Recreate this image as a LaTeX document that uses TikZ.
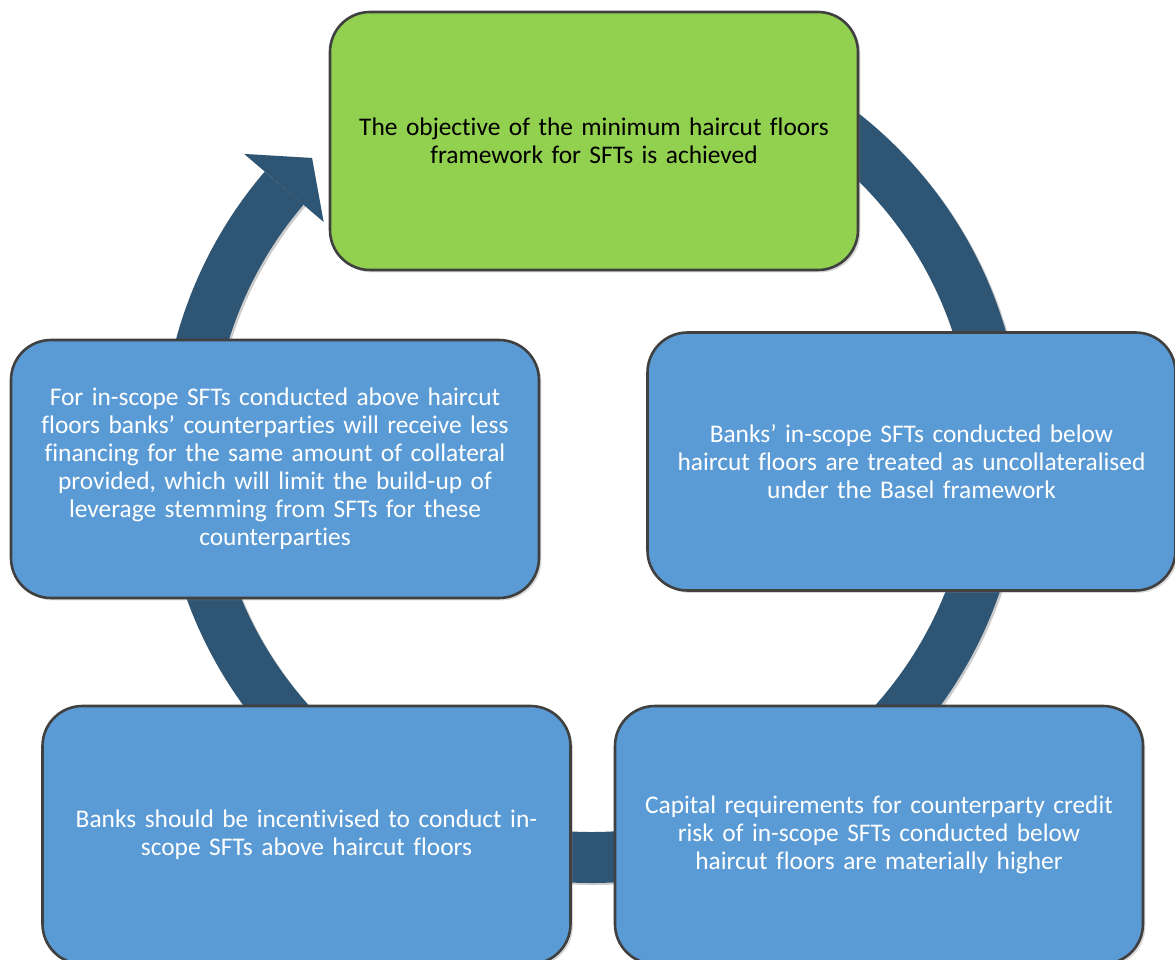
\documentclass[tikz,border=0pt]{standalone}
\usepackage{fontspec}
\setmainfont{Carlito}[Ligatures=NoCommon]
\usepackage{tikz}
\usetikzlibrary{calc,shadows}
\definecolor{goalgreen}{HTML}{92D050}
\definecolor{cardblue}{HTML}{5B9BD5}
\definecolor{ringblue}{HTML}{2E5573}
\definecolor{edgegray}{HTML}{404040}

\begin{document}
\begin{tikzpicture}[x=0.5pt, y=0.5pt,
  card/.style={draw=edgegray, line width=1.3pt, fill=cardblue, text=white,
    rounded corners=20pt, minimum width=264pt, minimum height=129pt,
    text width=256pt, align=center, font=\fontsize{12.7}{14}\selectfont,
    drop shadow={shadow xshift=1.2pt, shadow yshift=-1.2pt, opacity=0.3}},
  ring/.style={ringblue, line width=25.5pt}]
  \useasboundingbox (0,0) rectangle (1175,960);
  \coordinate (c) at (592,508);
  \draw[ring, black, opacity=0.2] ($(c)+(95:405.5)+(2,-2)$) arc[start angle=95, end angle=-220.6, radius=202.75pt];
  \fill[black, opacity=0.2, shift={(2,-2)}] ($(c)+(139.4:353.5)$) -- ($(c)+(133.6:406)$) -- ($(c)+(139.4:458)$) -- cycle;
  \draw[ring] ($(c)+(95:405.5)$) arc[start angle=95, end angle=-220.6, radius=202.75pt];
  \fill[ringblue] ($(c)+(139.4:353.5)$) -- ($(c)+(133.6:406)$) -- ($(c)+(139.4:458)$) -- cycle;
  \node[card, fill=goalgreen, text=black] (goal) at (594,819)
    {The objective of the minimum haircut floors\\ framework for SFTs is achieved};
  \node[card] (below) at (911.5,498.5)
    {Banks’ in-scope SFTs conducted below\\ haircut floors are treated as uncollateralised\\ under the Basel framework};
  \node[card] (capital) at (879,125)
    {Capital requirements for counterparty credit\\ risk of in-scope SFTs conducted below\\ haircut floors are materially higher};
  \node[card] (incentive) at (306.5,125)
    {Banks should be incentivised to conduct in-\\ scope SFTs above haircut floors};
  \node[card] (leverage) at (275,491)
    {For in-scope SFTs conducted above haircut\\ floors banks’ counterparties will receive less\\ financing for the same amount of collateral\\ provided, which will limit the build-up of\\ leverage stemming from SFTs for these\\ counterparties};
\end{tikzpicture}
\end{document}
